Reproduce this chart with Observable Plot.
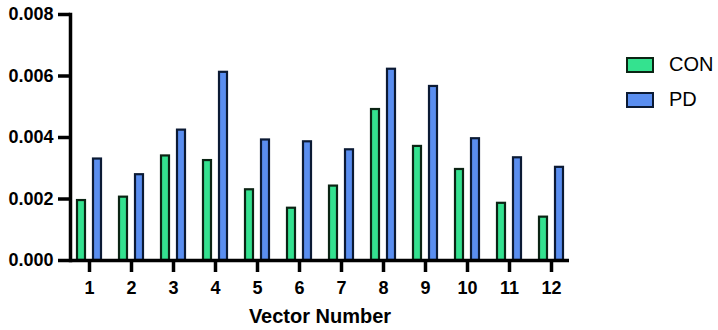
<!DOCTYPE html>
<html>
<head>
<meta charset="utf-8">
<script src="https://cdn.jsdelivr.net/npm/d3@7"></script>
<script src="https://cdn.jsdelivr.net/npm/@observablehq/plot@0.6"></script>
<style>
  html, body { margin: 0; padding: 0; background: #fff; }
  #wrap { position: relative; width: 718px; height: 330px; font-family: "Liberation Sans", Arial, Helvetica, sans-serif; }
  #legend { position: absolute; left: 626px; top: 47px; }
  .item { display: flex; align-items: center; height: 35px; }
  .sw { box-sizing: border-box; width: 28px; height: 16px; border: 2px solid; margin-right: 15px; }
  .lab { font-size: 20px; color: #000; }
</style>
</head>
<body>
<div id="wrap"><div id="legend"></div></div>
<script>
const categories = ["1","2","3","4","5","6","7","8","9","10","11","12"];
const conValues = [0.00195, 0.00206, 0.00340, 0.00325, 0.00230, 0.00170, 0.00242, 0.00491, 0.00371, 0.00296, 0.00186, 0.00141];
const pdValues  = [0.00330, 0.00279, 0.00424, 0.00612, 0.00392, 0.00386, 0.00360, 0.00622, 0.00566, 0.00396, 0.00334, 0.00303];
const seriesNames = ["CON", "PD"];
const fills = ["#34e28f", "#5a8ef0"];
const strokes = ["#0b2414", "#0b1a34"];
const yTicks = [0, 0.002, 0.004, 0.006, 0.008];
const xTitle = "Vector Number";

const conRows = categories.map((c, i) => ({vector: c, value: conValues[i]}));
const pdRows = categories.map((c, i) => ({vector: c, value: pdValues[i]}));

const chart = Plot.plot({
  width: 718,
  height: 330,
  marginLeft: 70,
  marginRight: 149,
  marginTop: 14,
  marginBottom: 70,
  style: {fontFamily: '"Liberation Sans", Arial, Helvetica, sans-serif', background: "#fff", color: "#000"},
  x: {domain: categories, paddingInner: 0.381, paddingOuter: 0.119, label: null},
  y: {domain: [0, 0.008], label: null},
  marks: [
    Plot.barY(conRows, {x: "vector", y: "value", fill: fills[0], stroke: strokes[0], strokeWidth: 2.2, insetLeft: 1, insetRight: 17}),
    Plot.barY(pdRows, {x: "vector", y: "value", fill: fills[1], stroke: strokes[1], strokeWidth: 2.2, insetLeft: 17, insetRight: 1}),
    Plot.axisY({ticks: yTicks, tickFormat: d3.format(".3f"), tickSize: 12, tickPadding: 5, strokeWidth: 3.5, fontSize: 18, fontWeight: "bold", label: null}),
    Plot.axisX({tickSize: 12, tickPadding: 9, strokeWidth: 3.5, fontSize: 18, fontWeight: "bold", label: null}),
    Plot.frame({anchor: "left", strokeWidth: 3.5, stroke: "#000"}),
    Plot.ruleY([0], {strokeWidth: 3.5, stroke: "#000"}),
    Plot.text([xTitle], {frameAnchor: "bottom", dy: 62, fontSize: 20, fontWeight: "bold", fill: "#000"})
  ]
});
document.getElementById("wrap").prepend(chart);

const legend = document.getElementById("legend");
seriesNames.forEach((name, i) => {
  const item = document.createElement("div");
  item.className = "item";
  const sw = document.createElement("div");
  sw.className = "sw";
  sw.style.background = fills[i];
  sw.style.borderColor = strokes[i];
  const lab = document.createElement("span");
  lab.className = "lab";
  lab.textContent = name;
  item.appendChild(sw);
  item.appendChild(lab);
  legend.appendChild(item);
});
</script>
</body>
</html>
